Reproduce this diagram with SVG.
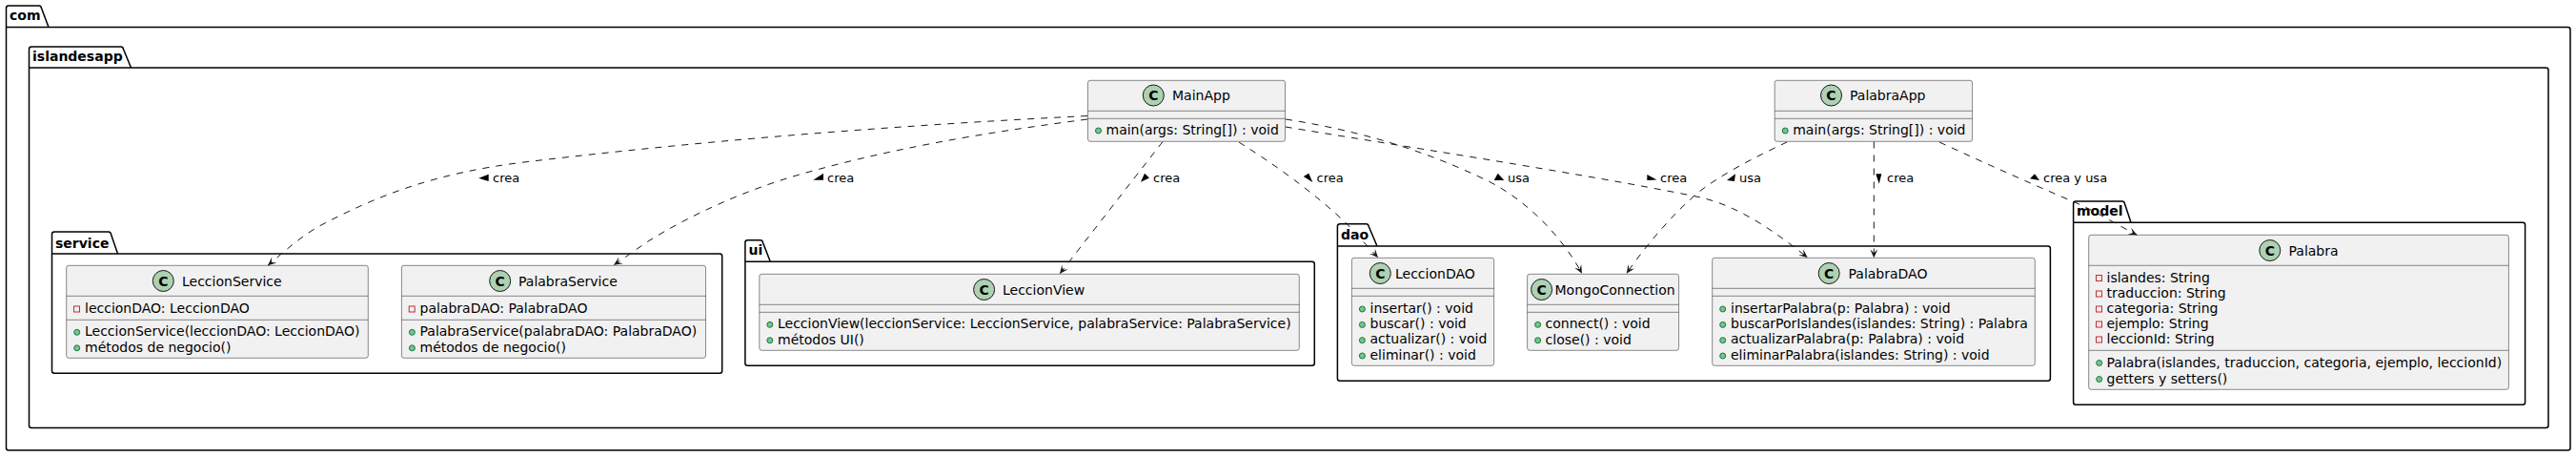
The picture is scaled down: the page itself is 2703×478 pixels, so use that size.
<svg xmlns="http://www.w3.org/2000/svg" width="2703" height="478" viewBox="0 0 2703 478">
<style>
text{font-family:"DejaVu Sans",sans-serif;fill:#000}
.m{font-size:14px}
.l{font-size:13px}
.p{font-size:14px;font-weight:bold}
.pk{fill:none;stroke:#000;stroke-width:1.5}
.b{fill:#F1F1F1;stroke:#181818;stroke-width:.5}
.s{stroke:#181818;stroke-width:.5}
.ci{fill:#ADD1B2;stroke:#181818;stroke-width:1}
.c{font-size:14px;font-weight:bold;text-anchor:middle}
.pu{fill:#84BE84;stroke:#038048;stroke-width:1}
.pr{fill:#F1F1F1;stroke:#C82930;stroke-width:1}
.e{fill:none;stroke:#181818;stroke-width:1;stroke-dasharray:7,7;marker-end:url(#a)}
.t{fill:#000}
</style>
<defs>
<marker id="a" markerUnits="userSpaceOnUse" markerWidth="12" markerHeight="12" refX="10" refY="6" orient="auto" overflow="visible"><path d="M10,6 L1,2 L5,6 L1,10 Z" fill="#181818"/></marker>
<circle id="pub" r="3" class="pu"/>
<rect id="pri" width="6" height="6" class="pr"/>
</defs>
<rect width="2703" height="478" fill="#fff"/>
<g id="packages">
<g id="pkg-com"><path class="pk" d="M9,6 L41,6 Q43,6 43.5,8.5 L51,28.5 L2694.5,28.5 Q2697,28.5 2697,31 L2697,469.5 Q2697,472 2694.5,472 L9,472 Q6.5,472 6.5,469.5 L6.5,8.5 Q6.5,6 9,6 Z M6.5,28.5 L51,28.5"/><text class="p" x="10" y="21">com</text></g>
<g id="pkg-islandesapp"><path class="pk" d="M33,49 L127,49 Q129,49 129.5,51.5 L137.5,71 L2671.5,71 Q2674,71 2674,73.5 L2674,446 Q2674,448.5 2671.5,448.5 L33,448.5 Q30.5,448.5 30.5,446 L30.5,51.5 Q30.5,49 33,49 Z M30.5,71 L137.5,71"/><text class="p" x="34" y="63.5">islandesapp</text></g>
<g id="pkg-service"><path class="pk" d="M57,243 L114,243 Q116,243 116.5,245.5 L123.5,266 L755.2,266 Q757.7,266 757.7,268.5 L757.7,388.8 Q757.7,391.3 755.2,391.3 L57,391.3 Q54.5,391.3 54.5,388.8 L54.5,245.5 Q54.5,243 57,243 Z M54.5,266 L123.5,266"/><text class="p" x="58" y="259.5">service</text></g>
<g id="pkg-ui"><path class="pk" d="M784.4,251.7 L798,251.7 Q800,251.7 800.5,254.2 L808.3,274.3 L1376.8,274.3 Q1379.3,274.3 1379.3,276.8 L1379.3,380.8 Q1379.3,383.3 1376.8,383.3 L784.4,383.3 Q781.9,383.3 781.9,380.8 L781.9,254.2 Q781.9,251.7 784.4,251.7 Z M781.9,274.3 L808.3,274.3"/><text class="p" x="785.5" y="266.7">ui</text></g>
<g id="pkg-dao"><path class="pk" d="M1405.9,234.7 L1433.7,234.7 Q1435.7,234.7 1436.2,237.2 L1445,258 L2148.9,258 Q2151.4,258 2151.4,260.5 L2151.4,396.8 Q2151.4,399.3 2148.9,399.3 L1405.9,399.3 Q1403.4,399.3 1403.4,396.8 L1403.4,237.2 Q1403.4,234.7 1405.9,234.7 Z M1403.4,258 L1445,258"/><text class="p" x="1407" y="251">dao</text></g>
<g id="pkg-model"><path class="pk" d="M2178.1,211 L2227,211 Q2229,211 2229.5,213.5 L2236,233.3 L2647.1,233.3 Q2649.6,233.3 2649.6,235.8 L2649.6,421.8 Q2649.6,424.3 2647.1,424.3 L2178.1,424.3 Q2175.6,424.3 2175.6,421.8 L2175.6,213.5 Q2175.6,211 2178.1,211 Z M2175.6,233.3 L2236,233.3"/><text class="p" x="2179" y="226">model</text></g>
</g>
<g id="MainApp"><rect class="b" x="1141.5" y="84.3" width="207" height="64" rx="2.5"/><path class="s" d="M1141.5,116.3H1348.5M1141.5,124.3H1348.5"/><circle class="ci" cx="1210.3" cy="100" r="11"/><text class="c" x="1210.3" y="105">C</text><text class="m" x="1230" y="105">MainApp</text><use href="#pub" x="1152.5" y="137"/><text class="m" x="1160.5" y="140.7">main(args: String[]) : void</text></g>
<g id="PalabraApp"><rect class="b" x="1862.2" y="84.3" width="207.4" height="64" rx="2.5"/><path class="s" d="M1862.2,116.3H2069.6M1862.2,124.3H2069.6"/><circle class="ci" cx="1921.5" cy="100" r="11"/><text class="c" x="1921.5" y="105">C</text><text class="m" x="1941" y="105">PalabraApp</text><use href="#pub" x="1873.2" y="137"/><text class="m" x="1881.2" y="140.7">main(args: String[]) : void</text></g>
<g id="LeccionService"><rect class="b" x="69.7" y="278.3" width="316.6" height="97" rx="2.5"/><path class="s" d="M69.7,310.3H386.3M69.7,335.3H386.3"/><circle class="ci" cx="171.3" cy="294.5" r="11"/><text class="c" x="171.3" y="299.5">C</text><text class="m" x="191" y="299.5">LeccionService</text><use href="#pri" x="77.5" y="321"/><text class="m" x="89" y="328.3">leccionDAO: LeccionDAO</text><use href="#pub" x="80.7" y="348.3"/><text class="m" x="89" y="352">LeccionService(leccionDAO: LeccionDAO)</text><use href="#pub" x="80.7" y="364.8"/><text class="m" x="89" y="368.5">métodos de negocio()</text></g>
<g id="PalabraService"><rect class="b" x="421.4" y="278.3" width="319.1" height="97" rx="2.5"/><path class="s" d="M421.4,310.3H740.5M421.4,335.3H740.5"/><circle class="ci" cx="524.7" cy="294.5" r="11"/><text class="c" x="524.7" y="299.5">C</text><text class="m" x="544" y="299.5">PalabraService</text><use href="#pri" x="429.2" y="321"/><text class="m" x="440.5" y="328.3">palabraDAO: PalabraDAO</text><use href="#pub" x="432.4" y="348.3"/><text class="m" x="440.5" y="352">PalabraService(palabraDAO: PalabraDAO)</text><use href="#pub" x="432.4" y="364.8"/><text class="m" x="440.5" y="368.5">métodos de negocio()</text></g>
<g id="LeccionView"><rect class="b" x="796.8" y="287.3" width="566.5" height="80" rx="2.5"/><path class="s" d="M796.8,319.3H1363.3M796.8,327.3H1363.3"/><circle class="ci" cx="1032.6" cy="303.5" r="11"/><text class="c" x="1032.6" y="308.5">C</text><text class="m" x="1052" y="308.5">LeccionView</text><use href="#pub" x="807.8" y="340.3"/><text class="m" x="816" y="344">LeccionView(leccionService: LeccionService, palabraService: PalabraService)</text><use href="#pub" x="807.8" y="356.8"/><text class="m" x="816" y="360.5">métodos UI()</text></g>
<g id="LeccionDAO"><rect class="b" x="1418.4" y="270.3" width="149.2" height="113" rx="2.5"/><path class="s" d="M1418.4,302.3H1567.6M1418.4,310.3H1567.6"/><circle class="ci" cx="1448.3" cy="286.5" r="11"/><text class="c" x="1448.3" y="291.5">C</text><text class="m" x="1464" y="291.5">LeccionDAO</text><use href="#pub" x="1429.4" y="324"/><text class="m" x="1437.5" y="327.7">insertar() : void</text><use href="#pub" x="1429.4" y="340.4"/><text class="m" x="1437.5" y="344">buscar() : void</text><use href="#pub" x="1429.4" y="356.7"/><text class="m" x="1437.5" y="360.3">actualizar() : void</text><use href="#pub" x="1429.4" y="373"/><text class="m" x="1437.5" y="376.7">eliminar() : void</text></g>
<g id="MongoConnection"><rect class="b" x="1602.6" y="287.3" width="159" height="80" rx="2.5"/><path class="s" d="M1602.6,319.3H1761.6M1602.6,327.3H1761.6"/><circle class="ci" cx="1617.6" cy="303.5" r="11"/><text class="c" x="1617.6" y="308.5">C</text><text class="m" x="1631.5" y="308.5">MongoConnection</text><use href="#pub" x="1613.6" y="340.3"/><text class="m" x="1621.6" y="344">connect() : void</text><use href="#pub" x="1613.6" y="356.8"/><text class="m" x="1621.6" y="360.5">close() : void</text></g>
<g id="PalabraDAO"><rect class="b" x="1796.7" y="270.3" width="338.6" height="113" rx="2.5"/><path class="s" d="M1796.7,302.3H2135.3M1796.7,310.3H2135.3"/><circle class="ci" cx="1919.2" cy="286.5" r="11"/><text class="c" x="1919.2" y="291.5">C</text><text class="m" x="1939.5" y="291.5">PalabraDAO</text><use href="#pub" x="1807.7" y="324"/><text class="m" x="1816" y="327.7">insertarPalabra(p: Palabra) : void</text><use href="#pub" x="1807.7" y="340.4"/><text class="m" x="1816" y="344">buscarPorIslandes(islandes: String) : Palabra</text><use href="#pub" x="1807.7" y="356.7"/><text class="m" x="1816" y="360.3">actualizarPalabra(p: Palabra) : void</text><use href="#pub" x="1807.7" y="373"/><text class="m" x="1816" y="376.7">eliminarPalabra(islandes: String) : void</text></g>
<g id="Palabra"><rect class="b" x="2191.7" y="246.3" width="440.7" height="162" rx="2.5"/><path class="s" d="M2191.7,278.3H2632.4M2191.7,367.3H2632.4"/><circle class="ci" cx="2381.8" cy="262.5" r="11"/><text class="c" x="2381.8" y="267.5">C</text><text class="m" x="2401.5" y="267.5">Palabra</text><use href="#pri" x="2199.5" y="288.5"/><text class="m" x="2210.5" y="296">islandes: String</text><use href="#pri" x="2199.5" y="305"/><text class="m" x="2210.5" y="312.3">traduccion: String</text><use href="#pri" x="2199.5" y="321"/><text class="m" x="2210.5" y="328.3">categoria: String</text><use href="#pri" x="2199.5" y="337"/><text class="m" x="2210.5" y="344.3">ejemplo: String</text><use href="#pri" x="2199.5" y="353"/><text class="m" x="2210.5" y="360.3">leccionId: String</text><use href="#pub" x="2202.7" y="380.5"/><text class="m" x="2210.5" y="385">Palabra(islandes, traduccion, categoria, ejemplo, leccionId)</text><use href="#pub" x="2202.7" y="397.5"/><text class="m" x="2210.5" y="401.5">getters y setters()</text></g>
<g id="connectors">
<path class="e" d="M1141,121.5 C950,131 750,146 550,170 C460,181 400,203 337,236 C318,246 300,262 281,278.3"/>
<path class="e" d="M1141,125 C1050,137 950,152 847,180.7 C780,199 720,228 680,253 C668,261 656,270 644,277.7"/>
<path class="e" d="M1220,148.5 L1112,287"/>
<path class="e" d="M1300,149 C1335,171 1375,199 1411.7,233 C1422,244 1435,258 1446,270"/>
<path class="e" d="M1349,125 C1420,136 1490,155 1562,190 C1605,212 1640,250 1660,286.7"/>
<path class="e" d="M1349,133 C1450,150 1650,180 1780,206 C1825,215 1865,245 1896.7,270"/>
<path class="e" d="M1875,149 C1845,163 1805,183 1780,203.3 C1755,225 1728,256 1706.7,286.7"/>
<path class="e" d="M1966.3,148.5 L1966.3,270.3"/>
<path class="e" d="M2035,149 C2085,172 2130,192 2177,212 C2200,222 2222,236 2242.4,246.3"/>
<polygon class="t" points="502.3,186.7 512.7,182.7 512.7,190"/><text class="l" x="517" y="191">crea</text>
<polygon class="t" points="853.3,188.7 864,181.7 864,188.7"/><text class="l" x="868" y="191">crea</text>
<polygon class="t" points="1201,181.7 1206,186.5 1197,190.7"/><text class="l" x="1210" y="191">crea</text>
<polygon class="t" points="1367.7,185 1373.3,181.7 1377.3,191"/><text class="l" x="1381.5" y="191">crea</text>
<polygon class="t" points="1567.7,189 1571.7,181.7 1578.3,189"/><text class="l" x="1582" y="191">usa</text>
<polygon class="t" points="1728.3,183 1738.5,188.5 1728.3,189"/><text class="l" x="1742" y="191">crea</text>
<polygon class="t" points="1821,182.3 1812,189 1820,190"/><text class="l" x="1825" y="191">usa</text>
<polygon class="t" points="1968.3,182.3 1974.3,182.3 1971.7,192.7"/><text class="l" x="1980" y="191">crea</text>
<polygon class="t" points="2130,187.3 2135,182.3 2140,189"/><text class="l" x="2144" y="191">crea y usa</text>
</g>
</svg>
